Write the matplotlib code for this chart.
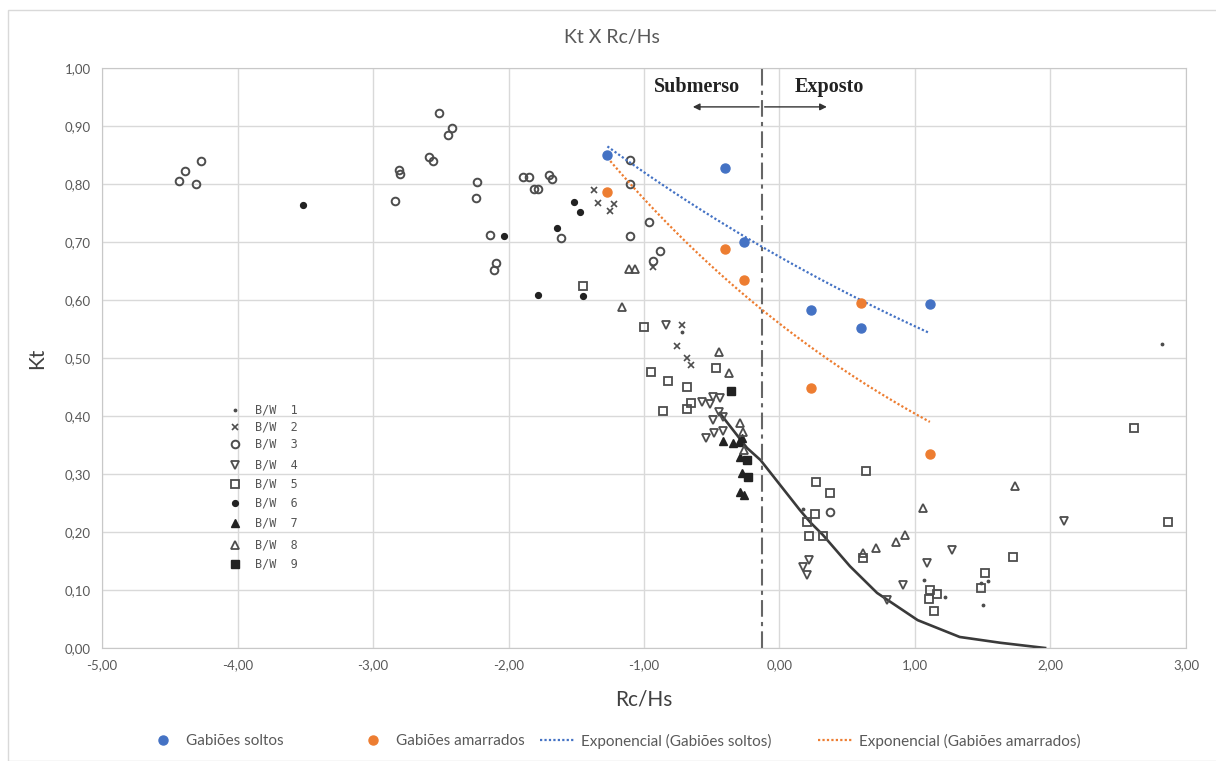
import numpy as np
import matplotlib
matplotlib.use("Agg")
import matplotlib.pyplot as plt
from matplotlib.patches import Rectangle

plt.rcParams['font.family'] = ['Lato', 'DejaVu Sans']

# Excel series (Gabiões)
gab_x = [-1.27, -0.40, -0.26, 0.23, 0.60, 1.11]
soltos_y = [0.850, 0.828, 0.700, 0.583, 0.552, 0.593]
amarr_y = [0.786, 0.688, 0.634, 0.448, 0.595, 0.334]

# scanned background series B/W 1..9
bw1_x = [1.07, 1.49, 1.54, 1.50, 1.22, 0.17, 2.82, -0.72]
bw1_y = [0.117, 0.112, 0.116, 0.074, 0.088, 0.240, 0.524, 0.545]
bw2_x = [-1.37, -1.34, -1.22, -1.25, -0.93, -0.72, -0.76, -0.68, -0.65]
bw2_y = [0.789, 0.767, 0.766, 0.753, 0.657, 0.557, 0.521, 0.500, 0.488]
bw3_x = [-4.43, -4.39, -4.31, -4.27, -2.84, -2.81, -2.80, -2.59, -2.56, -2.51, -2.42,
         -2.45, -2.23, -2.24, -1.89, -1.85, -1.70, -1.68, -1.81, -1.78, -2.14, -1.61,
         -2.09, -2.11, -1.10, -1.10, -0.96, -1.10, -0.88, -0.93, 0.37]
bw3_y = [0.805, 0.822, 0.800, 0.840, 0.771, 0.824, 0.818, 0.847, 0.840, 0.922, 0.897,
         0.884, 0.803, 0.776, 0.812, 0.812, 0.816, 0.809, 0.791, 0.791, 0.712, 0.707,
         0.664, 0.652, 0.841, 0.800, 0.734, 0.710, 0.684, 0.667, 0.234]
bw4_x = [-0.84, -0.57, -0.51, -0.49, -0.44, -0.45, -0.49, -0.42, -0.54, -0.48, -0.42,
         0.22, 0.17, 0.20, 0.79, 0.91, 1.09, 1.27, 2.10]
bw4_y = [0.557, 0.424, 0.421, 0.433, 0.431, 0.407, 0.393, 0.398, 0.362, 0.371, 0.374,
         0.152, 0.140, 0.126, 0.083, 0.109, 0.147, 0.169, 0.219]
bw5_x = [-1.45, -1.00, -0.47, -0.95, -0.82, -0.68, -0.86, -0.68, -0.65, 0.64, 0.27,
         0.37, 0.26, 0.20, 0.22, 0.32, 0.62, 1.72, 1.52, 1.49, 1.11, 1.16, 1.10, 1.14,
         2.62, 2.87]
bw5_y = [0.624, 0.553, 0.483, 0.476, 0.460, 0.450, 0.409, 0.412, 0.422, 0.305, 0.286,
         0.267, 0.231, 0.217, 0.193, 0.193, 0.155, 0.157, 0.129, 0.103, 0.100, 0.093,
         0.084, 0.064, 0.379, 0.217]
bw6_x = [-3.52, -2.03, -1.64, -1.78, -1.45, -1.52, -1.47]
bw6_y = [0.764, 0.710, 0.724, 0.609, 0.607, 0.769, 0.752]
bw7_x = [-0.42, -0.34, -0.30, -0.28, -0.29, -0.28, -0.29, -0.26]
bw7_y = [0.357, 0.353, 0.355, 0.362, 0.330, 0.302, 0.269, 0.264]
bw8_x = [-1.16, -1.11, -1.07, -0.45, -0.37, -0.29, -0.27, -0.26, 0.62, 0.71, 0.86,
         0.93, 1.06, 1.74]
bw8_y = [0.588, 0.653, 0.653, 0.510, 0.474, 0.388, 0.372, 0.341, 0.164, 0.172, 0.183,
         0.195, 0.241, 0.279]
bw9_x = [-0.36, -0.24, -0.23]
bw9_y = [0.443, 0.324, 0.295]

# theoretical curve from the scanned figure
curve_x = [-0.44, -0.24, -0.14, 0.15, 0.23, 0.32, 0.52, 0.72, 1.02, 1.33, 1.63, 1.96]
curve_y = [0.405, 0.345, 0.324, 0.238, 0.216, 0.195, 0.141, 0.095, 0.048, 0.019, 0.009, 0.0]

bw_labels = ["B/W  1", "B/W  2", "B/W  3", "B/W  4", "B/W  5",
             "B/W  6", "B/W  7", "B/W  8", "B/W  9"]
bw_key_y = [0.410, 0.381, 0.352, 0.316, 0.283, 0.250, 0.216, 0.178, 0.145]

divisor_x = -0.13

gray = '#4d4d4d'
styles = [
    dict(marker='.', ms=3.5, color=gray, mec=gray),
    dict(marker='x', ms=4, color=gray, mew=1.2),
    dict(marker='o', ms=5.5, mfc='none', mec=gray, mew=1.4),
    dict(marker='v', ms=6, mfc='none', mec=gray, mew=1.3),
    dict(marker='s', ms=5.5, mfc='none', mec=gray, mew=1.3),
    dict(marker='o', ms=4.2, color='#222222'),
    dict(marker='^', ms=6, color='#222222'),
    dict(marker='^', ms=6, mfc='none', mec=gray, mew=1.3),
    dict(marker='s', ms=5.5, color='#222222'),
]
bw_x = [bw1_x, bw2_x, bw3_x, bw4_x, bw5_x, bw6_x, bw7_x, bw8_x, bw9_x]
bw_y = [bw1_y, bw2_y, bw3_y, bw4_y, bw5_y, bw6_y, bw7_y, bw8_y, bw9_y]

fig = plt.figure(figsize=(12.16, 7.61), dpi=100)
ax = fig.add_axes([0.0839, 0.1485, 0.8914, 0.7621])

ax.set_xlim(-5, 3)
ax.set_ylim(0, 1)
ax.set_xticks(np.arange(-5, 3.1, 1))
ax.set_yticks(np.arange(0, 1.01, 0.1))
ax.xaxis.set_major_formatter(lambda v, p: f"{v:.2f}".replace('.', ','))
ax.yaxis.set_major_formatter(lambda v, p: f"{v:.2f}".replace('.', ','))
ax.tick_params(length=0, labelsize=9.5, labelcolor='#595959', pad=8)
ax.grid(color='#d9d9d9', lw=1)
ax.set_axisbelow(True)
for s in ax.spines.values():
    s.set_color('#c8c8c8')

# scanned figure content
ax.plot(curve_x, curve_y, color='#3a3a3a', lw=1.9, zorder=2)
for xs, ys, st in zip(bw_x, bw_y, styles):
    ax.plot(xs, ys, ls='none', zorder=3, **st)
for yk, lab, st in zip(bw_key_y, bw_labels, styles):
    ax.plot([-4.02], [yk], ls='none', zorder=3, **st)
    ax.text(-3.87, yk, lab, fontsize=8.5, family='DejaVu Sans Mono',
            color='#555555', va='center')

ax.axvline(divisor_x, color='#666666', lw=1.5, ls=(0, (8, 2.5, 2, 2.5)), zorder=2)
ax.annotate('', xy=(-0.66, 0.933), xytext=(divisor_x, 0.933),
            arrowprops=dict(arrowstyle='-|>', color='#333333', lw=1, mutation_scale=10))
ax.annotate('', xy=(0.37, 0.933), xytext=(divisor_x, 0.933),
            arrowprops=dict(arrowstyle='-|>', color='#333333', lw=1, mutation_scale=10))
ax.text(-0.61, 0.967, 'Submerso', family='Liberation Serif', fontweight='bold',
        fontsize=14.5, ha='center', va='center', color='#222222')
ax.text(0.37, 0.967, 'Exposto', family='Liberation Serif', fontweight='bold',
        fontsize=14.5, ha='center', va='center', color='#222222')

# Excel series and exponential trendlines
blue = '#4472C4'
orange = '#ED7D31'
gx = np.array(gab_x)
tx = np.linspace(gx.min(), gx.max(), 50)
b1, a1 = np.polyfit(gx, np.log(soltos_y), 1)
b2, a2 = np.polyfit(gx, np.log(amarr_y), 1)
h1, = ax.plot(gx, soltos_y, 'o', color=blue, ms=6.5, zorder=5, label='Gabiões soltos')
h2, = ax.plot(gx, amarr_y, 'o', color=orange, ms=6.5, zorder=5, label='Gabiões amarrados')
h3, = ax.plot(tx, np.exp(a1 + b1 * tx), ls=(0, (1, 1)), color=blue, lw=1.6, zorder=4,
              label='Exponencial (Gabiões soltos)')
h4, = ax.plot(tx, np.exp(a2 + b2 * tx), ls=(0, (1, 1)), color=orange, lw=1.6, zorder=4,
              label='Exponencial (Gabiões amarrados)')

ax.set_xlabel('Rc/Hs', fontsize=15, color='#404040', labelpad=13)
ax.set_ylabel('Kt', fontsize=15, color='#404040', labelpad=13)
fig.text(0.503, 0.951, 'Kt X Rc/Hs', fontsize=14, color='#595959', ha='center', va='center')

# legend entries placed like Excel's uneven layout
leg_x = [145, 355, 540, 818]
for h, lx in zip([h1, h2, h3, h4], leg_x):
    fig.legend([h], [h.get_label()], loc='center left',
               bbox_to_anchor=(lx / 1216, 20 / 761), frameon=False, fontsize=11,
               labelcolor='#595959', handlelength=2.3, handletextpad=0.4,
               borderpad=0, borderaxespad=0)

fig.patches.append(Rectangle((8 / 1216, 0), 1, 751 / 761, transform=fig.transFigure,
                             fill=False, ec='#d9d9d9', lw=1))

fig.savefig('out.png', dpi=100)
